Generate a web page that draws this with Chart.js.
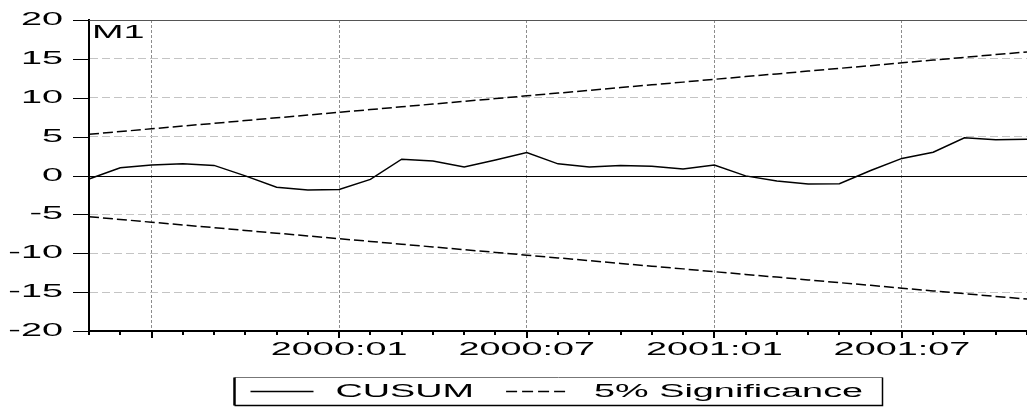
<!DOCTYPE html>
<html>
<head>
<meta charset="utf-8">
<script src="https://cdn.jsdelivr.net/npm/chart.js@4.4.0/dist/chart.umd.min.js"></script>
<style>
  html, body { margin: 0; padding: 0; background: #fff; }
  canvas { display: block; }
</style>
</head>
<body>
<canvas id="cusumChart" width="1027" height="407"></canvas>
<script>
const months = [
  '1999:05', '1999:06', '1999:07', '1999:08', '1999:09', '1999:10', '1999:11', '1999:12',
  '2000:01', '2000:02', '2000:03', '2000:04', '2000:05', '2000:06', '2000:07', '2000:08',
  '2000:09', '2000:10', '2000:11', '2000:12', '2001:01', '2001:02', '2001:03', '2001:04',
  '2001:05', '2001:06', '2001:07', '2001:08', '2001:09', '2001:10', '2001:11'
];

const cusum = [
  -0.45, 1.0, 1.35, 1.5, 1.3, -0.05, -1.5, -1.85,
  -1.8, -0.5, 2.1, 1.85, 1.1, 2.0, 2.95, 1.5,
  1.1, 1.3, 1.2, 0.85, 1.35, -0.05, -0.7, -1.1,
  -1.05, 0.65, 2.2, 3.0, 4.85, 4.6, 4.65
];

const upper5 = [
  5.30, 5.65, 6.01, 6.36, 6.71, 7.07, 7.42, 7.77,
  8.13, 8.48, 8.83, 9.19, 9.54, 9.89, 10.25, 10.60,
  10.95, 11.31, 11.66, 12.01, 12.37, 12.72, 13.07, 13.43,
  13.78, 14.13, 14.49, 14.84, 15.19, 15.55, 15.90
];

const lower5 = [
  -5.30, -5.65, -6.01, -6.36, -6.71, -7.07, -7.42, -7.77,
  -8.13, -8.48, -8.83, -9.19, -9.54, -9.89, -10.25, -10.60,
  -10.95, -11.31, -11.66, -12.01, -12.37, -12.72, -13.07, -13.43,
  -13.78, -14.13, -14.49, -14.84, -15.19, -15.55, -15.90
];

const yTicks = [20, 15, 10, 5, 0, -5, -10, -15, -20];
const xTickLabels = ['2000:01', '2000:07', '2001:01', '2001:07'];
const majorMonths = ['01', '07'];
const panelTitle = 'M1';

const FONT = '18px "Liberation Sans", Arial, sans-serif';
const SX = 2.1; // the text is drawn wide, stretched sideways

function isMajor(i) {
  return majorMonths.includes(months[i].slice(5));
}

function wideText(ctx, text, x, y, align) {
  ctx.save();
  ctx.translate(x, y);
  ctx.scale(SX, 1);
  ctx.font = FONT;
  ctx.fillStyle = '#000';
  ctx.textAlign = align;
  ctx.textBaseline = 'middle';
  ctx.fillText(text, 0, 0);
  ctx.restore();
}

function wideWidth(ctx, text) {
  ctx.save();
  ctx.font = FONT;
  const w = ctx.measureText(text).width * SX;
  ctx.restore();
  return w;
}

const frame = {
  id: 'frame',
  beforeDatasetsDraw(chart) {
    const { ctx, chartArea: a, scales: { y } } = chart;
    ctx.save();
    ctx.lineWidth = 1;
    // top edge of the panel
    ctx.strokeStyle = '#555';
    ctx.beginPath();
    ctx.moveTo(a.left, a.top + 0.5);
    ctx.lineTo(a.right, a.top + 0.5);
    ctx.stroke();
    // zero line
    const y0 = Math.round(y.getPixelForValue(0)) + 0.5;
    ctx.strokeStyle = '#000';
    ctx.beginPath();
    ctx.moveTo(a.left, y0);
    ctx.lineTo(a.right, y0);
    ctx.stroke();
    ctx.restore();
  },
  afterDraw(chart) {
    const { ctx, chartArea: a, scales: { x, y } } = chart;
    ctx.save();

    // left ticks and values
    ctx.strokeStyle = '#000';
    ctx.lineWidth = 1;
    yTicks.forEach(v => {
      const py = Math.round(y.getPixelForValue(v)) + 0.5;
      ctx.beginPath();
      ctx.moveTo(a.left - 16, py);
      ctx.lineTo(a.left, py);
      ctx.stroke();
      wideText(ctx, String(v), a.left - 26, py, 'right');
    });

    // monthly ticks under the axis, longer ones on 01 and 07
    ctx.lineWidth = 2;
    months.forEach((m, i) => {
      const px = Math.round(x.getPixelForValue(i));
      const len = isMajor(i) ? 7 : 4;
      ctx.beginPath();
      ctx.moveTo(px, a.bottom);
      ctx.lineTo(px, a.bottom + len);
      ctx.stroke();
    });
    xTickLabels.forEach(lbl => {
      const px = x.getPixelForValue(months.indexOf(lbl));
      wideText(ctx, lbl, px, a.bottom + 19, 'center');
    });

    wideText(ctx, panelTitle, a.left + 3, a.top + 13, 'left');

    // legend box
    const sets = chart.data.datasets;
    const names = [sets[0].label, sets[1].label];
    const bw = 648, bh = 28;
    const bx = Math.round((a.left + a.right) / 2 - bw / 2) + 0.5;
    const by = 377.5;
    const cy = by + bh / 2;
    ctx.fillStyle = '#fff';
    ctx.fillRect(bx, by, bw, bh);
    ctx.lineWidth = 1;
    ctx.strokeStyle = '#777';
    ctx.beginPath();
    ctx.moveTo(bx, by); ctx.lineTo(bx + bw, by);
    ctx.stroke();
    ctx.strokeStyle = '#000';
    ctx.lineWidth = 1.5;
    ctx.beginPath();
    ctx.moveTo(bx + bw, by); ctx.lineTo(bx + bw, by + bh); ctx.lineTo(bx, by + bh);
    ctx.stroke();
    ctx.lineWidth = 2.5;
    ctx.beginPath();
    ctx.moveTo(bx, by); ctx.lineTo(bx, by + bh);
    ctx.stroke();

    let lx = bx + 16;
    ctx.lineWidth = 1.5;
    ctx.beginPath();
    ctx.moveTo(lx, cy); ctx.lineTo(lx + 63, cy);
    ctx.stroke();
    lx += 63 + 22;
    wideText(ctx, names[0], lx, cy + 1, 'left');
    lx += wideWidth(ctx, names[0]) + 32;
    ctx.setLineDash([11, 5]);
    ctx.beginPath();
    ctx.moveTo(lx, cy); ctx.lineTo(lx + 60, cy);
    ctx.stroke();
    ctx.setLineDash([]);
    lx += 61 + 27;
    wideText(ctx, names[1], lx, cy + 1, 'left');

    ctx.restore();
  }
};

new Chart(document.getElementById('cusumChart'), {
  type: 'line',
  data: {
    labels: months,
    datasets: [
      {
        label: 'CUSUM',
        data: cusum,
        borderColor: '#000',
        borderWidth: 1.5,
        pointRadius: 0,
        tension: 0
      },
      {
        label: '5% Significance',
        data: upper5,
        borderColor: '#000',
        borderWidth: 1.5,
        borderDash: [10, 4],
        pointRadius: 0,
        tension: 0
      },
      {
        label: '5% Significance',
        data: lower5,
        borderColor: '#000',
        borderWidth: 1.5,
        borderDash: [10, 4],
        pointRadius: 0,
        tension: 0
      }
    ]
  },
  options: {
    responsive: false,
    animation: false,
    layout: { padding: { top: 20, left: 0, right: 0, bottom: 0 } },
    plugins: {
      legend: { display: false },
      tooltip: { enabled: false }
    },
    scales: {
      x: {
        ticks: { display: false },
        grid: {
          drawTicks: false,
          lineWidth: 1,
          color: c => isMajor(c.index) ? '#8c8c8c' : 'rgba(0,0,0,0)'
        },
        border: { color: '#000', width: 2, dash: [3, 2] },
        afterFit(scale) { scale.height = 76; }
      },
      y: {
        min: -20,
        max: 20,
        ticks: { display: false, stepSize: 5 },
        grid: {
          drawTicks: false,
          lineWidth: 1,
          color: c => (c.tick.value === 0 || Math.abs(c.tick.value) === 20) ? 'rgba(0,0,0,0)' : '#c4c4c4'
        },
        border: { color: '#000', width: 2, dash: [8, 4] },
        afterFit(scale) { scale.width = 89; }
      }
    }
  },
  plugins: [frame]
});
</script>
</body>
</html>
